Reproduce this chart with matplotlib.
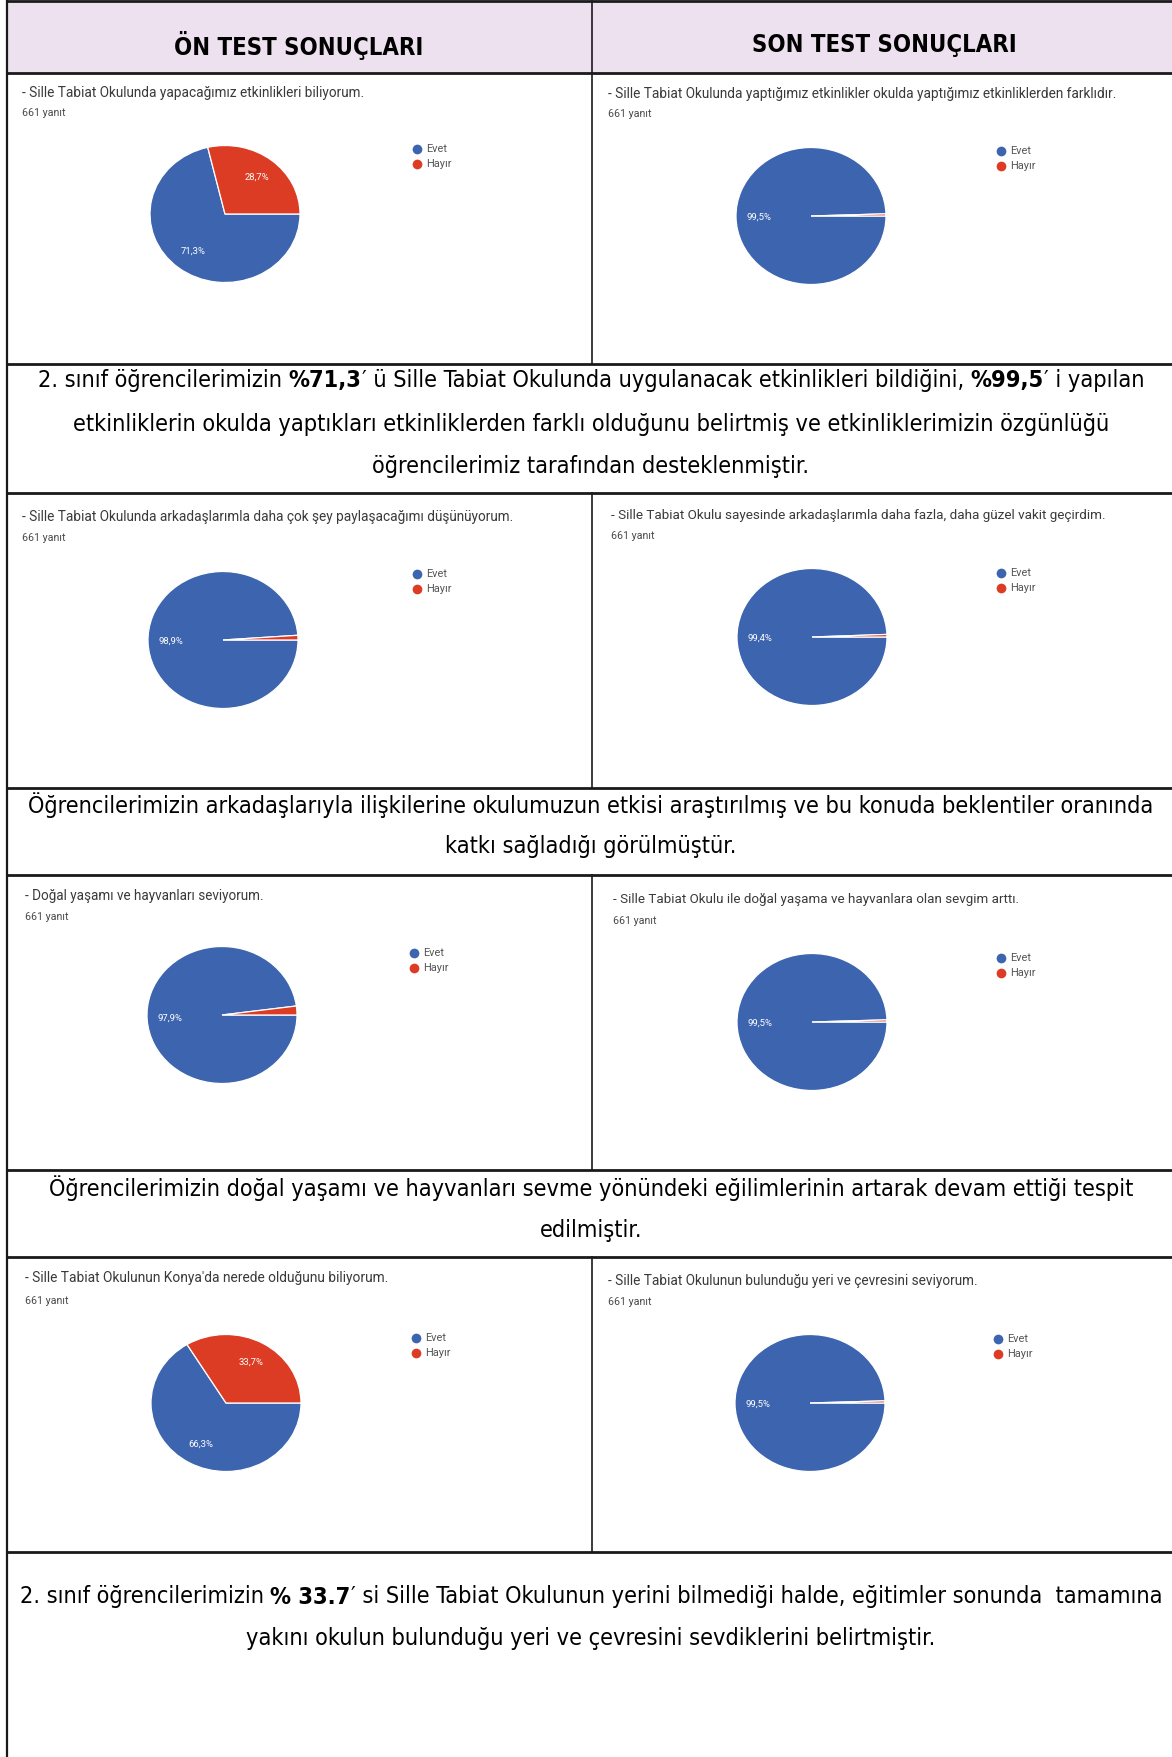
import matplotlib
matplotlib.use("Agg")
import matplotlib.pyplot as plt
from matplotlib.patches import Rectangle

# --- data ---
headers = ["ÖN TEST SONUÇLARI", "SON TEST SONUÇLARI"]
questions = [
    "- Sille Tabiat Okulunda yapacağımız etkinlikleri biliyorum.",
    "- Sille Tabiat Okulunda yaptığımız etkinlikler okulda yaptığımız etkinliklerden farklıdır.",
    "- Sille Tabiat Okulunda arkadaşlarımla daha çok şey paylaşacağımı düşünüyorum.",
    "- Sille Tabiat Okulu sayesinde arkadaşlarımla daha fazla, daha güzel vakit geçirdim.",
    "- Doğal yaşamı ve hayvanları seviyorum.",
    "- Sille Tabiat Okulu ile doğal yaşama ve hayvanlara olan sevgim arttı.",
    "- Sille Tabiat Okulunun Konya'da nerede olduğunu biliyorum.",
    "- Sille Tabiat Okulunun bulunduğu yeri ve çevresini seviyorum.",
]
responses = [661, 661, 661, 661, 661, 661, 661, 661]
answers = ["Evet", "Hayır"]
evet = [71.3, 99.5, 98.9, 99.4, 97.9, 99.5, 66.3, 99.5]
hayir = [28.7, 0.5, 1.1, 0.6, 2.1, 0.5, 33.7, 0.5]

captions = [
    [[("2. sınıf öğrencilerimizin ", False), ("%71,3", True),
      ("′ ü Sille Tabiat Okulunda uygulanacak etkinlikleri bildiğini, ", False),
      ("%99,5", True), ("′ i yapılan", False)],
     [("etkinliklerin okulda yaptıkları etkinliklerden farklı olduğunu belirtmiş ve etkinliklerimizin özgünlüğü", False)],
     [("öğrencilerimiz tarafından desteklenmiştir.", False)]],
    [[("Öğrencilerimizin arkadaşlarıyla ilişkilerine okulumuzun etkisi araştırılmış ve bu konuda beklentiler oranında", False)],
     [("katkı sağladığı görülmüştür.", False)]],
    [[("Öğrencilerimizin doğal yaşamı ve hayvanları sevme yönündeki eğilimlerinin artarak devam ettiği tespit", False)],
     [("edilmiştir.", False)]],
    [[("2. sınıf öğrencilerimizin ", False), ("% 33.7", True),
      ("′ si Sille Tabiat Okulunun yerini bilmediği halde, eğitimler sonunda  tamamına", False)],
     [("yakını okulun bulunduğu yeri ve çevresini sevdiklerini belirtmiştir.", False)]],
]

colors = ["#3d64ae", "#dc3b24"]

# --- layout (pixels) ---
W, H = 1172, 1757
fig = plt.figure(figsize=(W / 100, H / 100), dpi=100)
bg = fig.add_axes([0, 0, 1, 1])
bg.set_xlim(0, W)
bg.set_ylim(H, 0)
bg.axis("off")
rend = fig.canvas.get_renderer()

CAP_FONT = dict(family="DejaVu Sans", fontstretch="condensed")
GF_FONT = "Roboto"


def width_of(s, **kw):
    t = bg.text(0, 0, "|" + s + "|", **kw)
    b = bg.text(0, 0, "||", **kw)
    w = t.get_window_extent(rend).width - b.get_window_extent(rend).width
    t.remove()
    b.remove()
    return w


def fit_size(s, target, **kw):
    return 10 * target / width_of(s, fontsize=10, **kw)


def rich_line(y, parts, size, cx=591):
    ws = [width_of(t, fontsize=size, fontweight="bold" if b else "normal", **CAP_FONT)
          for t, b in parts]
    x = cx - sum(ws) / 2
    for (t, b), w in zip(parts, ws):
        bg.text(x, y, t, fontsize=size, fontweight="bold" if b else "normal",
                ha="left", va="center", color="black", **CAP_FONT)
        x += w


# header band
bg.add_patch(Rectangle((7, 1), W - 7, 72, color="#ede1ef", zorder=0))
hsize = fit_size(headers[0], 249, fontweight="bold", **CAP_FONT)
bg.text(299, 45, headers[0], fontsize=hsize, fontweight="bold", ha="center", va="center", **CAP_FONT)
bg.text(884, 45, headers[1], fontsize=hsize, fontweight="bold", ha="center", va="center", **CAP_FONT)

# table lines
for y in [1, 73, 364, 493, 788, 875, 1170, 1257, 1552]:
    bg.plot([7, W], [y, y], color="#1a1a1a", lw=2.0, solid_capstyle="butt")
bg.plot([7, 7], [1, H], color="#1a1a1a", lw=1.6)
for y0, y1 in [(1, 364), (493, 788), (875, 1170), (1257, 1552)]:
    bg.plot([592, 592], [y0, y1], color="#1a1a1a", lw=1.2)

# captions
csize = fit_size("".join(t for t, _ in captions[0][0]), 1100, **CAP_FONT)
cap_y = [[381, 424, 466], [805, 847], [1188, 1230], [1597, 1639]]
for cap, ys in zip(captions, cap_y):
    for parts, y in zip(cap, ys):
        rich_line(y, parts, csize)

# pie panels
title_xy = [(22, 93), (608, 94), (22, 517), (611, 515), (25, 896), (613, 900), (25, 1278), (608, 1281)]
title_end = [365, 1115, 513, 1105, 264, 1016, 387, 979]
count_y = [113, 114, 538, 536, 917, 921, 1301, 1302]
centers = [(225, 214), (811, 216), (223, 640), (812, 637), (222, 1015), (812, 1022), (226, 1403), (810, 1403)]
legend_xy = [(417, 149), (1001, 151), (417, 574), (1001, 573), (414, 953), (1001, 958), (416, 1338), (998, 1339)]
rx, ry = 75, 68.5
count_size = fit_size("661 yanıt", 43, family=GF_FONT)
leg_size = fit_size("Evet", 21, family=GF_FONT)


def pct_label(p):
    return f"{p:.1f}%".replace(".", ",") if p > 5 else ""


for i in range(8):
    tx, ty = title_xy[i]
    ts = fit_size(questions[i], title_end[i] - tx, family=GF_FONT)
    bg.text(tx, ty, questions[i], fontsize=ts, family=GF_FONT, color="#3a3a3a", ha="left", va="center")
    bg.text(tx, count_y[i], f"{responses[i]} yanıt", fontsize=count_size, family=GF_FONT,
            color="#4a4a4a", ha="left", va="center")

    cx, cy = centers[i]
    ax = fig.add_axes([(cx - rx) / W, 1 - (cy + ry) / H, 2 * rx / W, 2 * ry / H])
    ax.pie([evet[i], hayir[i]], colors=colors, startangle=0, counterclock=False,
           autopct=pct_label, pctdistance=0.69,
           wedgeprops=dict(edgecolor="white", linewidth=0.9),
           textprops=dict(color="white", fontsize=6.8, family=GF_FONT))
    ax.set_aspect("auto")
    ax.set_xlim(-1, 1)
    ax.set_ylim(-1, 1)

    lx, ly = legend_xy[i]
    for k, (lab, col) in enumerate(zip(answers, colors)):
        bg.plot(lx, ly + k * 15, "o", color=col, ms=7, mec="none")
        bg.text(lx + 9, ly + k * 15, lab, fontsize=leg_size, family=GF_FONT, color="#555555",
                ha="left", va="center")

fig.savefig("out.png", dpi=100)
